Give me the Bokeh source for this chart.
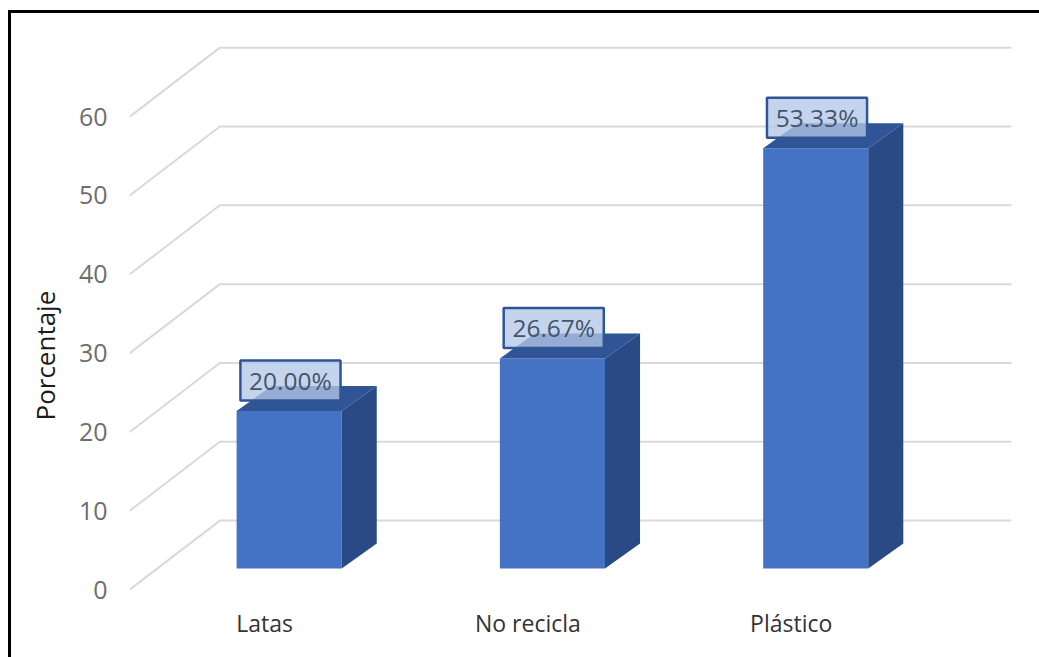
from bokeh.plotting import figure
from bokeh.models import Range1d, FixedTicker, Title
from bokeh.embed import file_html
from bokeh.resources import INLINE

categories = ["Latas", "No recicla", "Plástico"]
values = [20.00, 26.67, 53.33]
ticks = [0, 10, 20, 30, 40, 50, 60]

FONT = "Open Sans"
PX_X, PX_Y = 263.0, 7.883
W, H = 1031, 647

p = figure(width=W, height=H, output_backend="svg", toolbar_location=None,
           x_range=Range1d(-0.5133, 2.852), y_range=Range1d(-1, 70.93),
           min_border_left=116, min_border_right=27, min_border_top=17, min_border_bottom=63,
           outline_line_color=None, background_fill_color="white", border_fill_color="white",
           styles={"border-left": "3px solid black", "border-top": "3px solid black",
                   "box-sizing": "border-box", "margin-left": "8px", "margin-top": "10px"})
p.grid.visible = False

# axes
p.yaxis.ticker = FixedTicker(ticks=ticks)
p.yaxis.axis_line_color = None
p.yaxis.major_tick_line_color = None
p.yaxis.minor_tick_line_color = None
p.yaxis.major_label_standoff = 16
p.yaxis.major_label_text_font = FONT
p.yaxis.major_label_text_font_size = "25px"
p.yaxis.major_label_text_color = "#6e6e6e"

p.xaxis.ticker = FixedTicker(ticks=list(range(len(categories))))
p.xaxis.major_label_overrides = {i: c for i, c in enumerate(categories)}
p.xaxis.axis_line_color = None
p.xaxis.major_tick_line_color = None
p.xaxis.minor_tick_line_color = None
p.xaxis.major_label_standoff = 3
p.xaxis.major_label_text_font = FONT
p.xaxis.major_label_text_font_size = "23px"
p.xaxis.major_label_text_color = "#333333"

# wall + floor gridlines (projected depth)
wall_dx, wall_dy = 90 / PX_X, 69 / PX_Y
x0, x_end = -0.5133 + 0.001, 2.8365
xs = [[x0, x0 + wall_dx, x_end] for _ in ticks]
ys = [[t, t + wall_dy, t + wall_dy] for t in ticks]
p.multi_line(xs, ys, line_color="#d9d9d9", line_width=2)

# 3D bars
bar_w = 105 / PX_X
shift = 24.5 / PX_X
dep_x, dep_y = 35 / PX_X, 25 / PX_Y
base = 21 / PX_Y
lefts = [i + shift - bar_w / 2 for i in range(len(values))]
rights = [l + bar_w for l in lefts]
tops = [v + base for v in values]
p.quad(left=lefts, right=rights, bottom=base, top=tops, fill_color="#4472c4", line_color=None)
p.patches([[l, r, r + dep_x, l + dep_x] for l, r in zip(lefts, rights)],
          [[t, t, t + dep_y, t + dep_y] for t in tops],
          fill_color="#2f5597", line_color=None)
p.patches([[r, r + dep_x, r + dep_x, r] for r in rights],
          [[base, base + dep_y, t + dep_y, t] for t in tops],
          fill_color="#2a4a85", line_color=None)

# data labels
box_w, box_h = 100 / PX_X, 40 / PX_Y
lab_dx, lab_dy = 1.3 / PX_X, 30.5 / PX_Y
cx = [(l + r) / 2 + lab_dx for l, r in zip(lefts, rights)]
cy = [t + lab_dy for t in tops]
p.quad(left=[c - box_w / 2 for c in cx], right=[c + box_w / 2 for c in cx],
       bottom=[c - box_h / 2 for c in cy], top=[c + box_h / 2 for c in cy],
       fill_color="#b4c7e7", fill_alpha=0.77, line_color="#2f5597", line_width=2.5)
p.text(cx, cy, text=[f"{v:.2f}%" for v in values], text_align="center", text_baseline="middle",
       text_font={"value": FONT}, text_font_size={"value": "24.5px"}, text_color="#44546a")

# y title
p.add_layout(Title(text="Porcentaje", align="left", offset=177, standoff=26, text_font=FONT,
                   text_font_size="26px", text_font_style="normal", text_color="#1a1a1a"), "left")

open("out.html", "w").write(file_html(p, INLINE))
